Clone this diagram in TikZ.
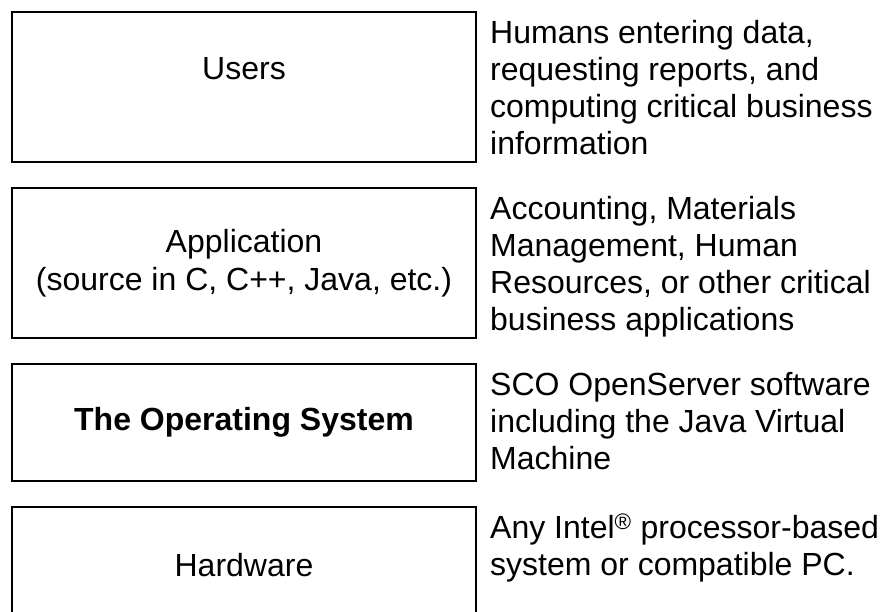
\documentclass[tikz,border=0pt]{standalone}
\usepackage{fontspec}
\setmainfont{Liberation Sans}
\usetikzlibrary{positioning}

\begin{document}
\begin{tikzpicture}[x=1pt, y=1pt, node distance=26pt,
    layer/.style={draw, line width=2.5pt, outer sep=0pt, minimum width=464pt, align=center, font=\fontsize{32}{38}\selectfont},
    note/.style={align=left, inner sep=0pt, yshift=-8pt, font=\fontsize{32}{37}\selectfont}]
      \clip (0, 0) rectangle (881, -611);

      % the four layers, top to bottom
      \node[layer, minimum height=150pt, anchor=north west] (users) at (12, -12) {Users\\ \mbox{}};
      \node[layer, minimum height=150pt, below=of users] (app) {Application\\(source in C, C++, Java, etc.)};
      \node[layer, minimum height=117pt, below=of app] (os) {\bfseries The Operating System};
      \node[layer, minimum height=117pt, below=of os] (hw) {Hardware};

      \node[note, right=14pt of users.north east, anchor=north west] (usersnote) {Humans entering data,\\requesting reports, and\\computing critical business\\information};
      \node[note, right=14pt of app.north east, anchor=north west] (appnote) {Accounting, Materials\\Management, Human\\Resources, or other critical\\business applications};
      \node[note, right=14pt of os.north east, anchor=north west] (osnote) {SCO OpenServer software\\including the Java Virtual\\Machine};
      \node[note, right=14pt of hw.north east, anchor=north west] (hwnote) {Any Intel\smash{\textsuperscript{\textregistered}} processor-based\\system or compatible PC.};

    \end{tikzpicture}
\end{document}
